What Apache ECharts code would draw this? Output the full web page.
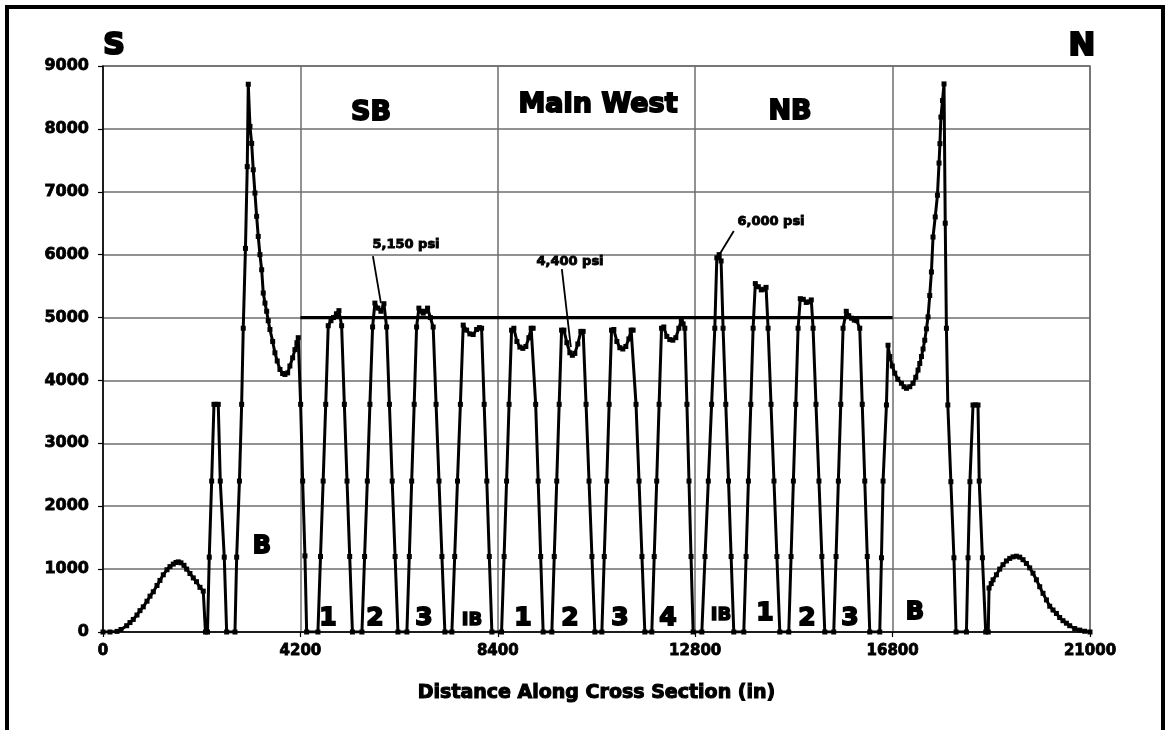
<!DOCTYPE html>
<html>
<head>
<meta charset="utf-8">
<script src="https://cdn.jsdelivr.net/npm/echarts@6/dist/echarts.min.js"></script>
<style>html,body{margin:0;padding:0;background:#fff}#chart{width:1165px;height:730px}</style>
</head>
<body>
<div id="chart"></div>
<script>
// Distance along cross section (in)
const distance = [
  0,149,298,383,504,574,644,723,787,857,936,1000,1070,1149,1212,1283,1361,1425,1495,1553,1602,1659,1723,1780,1850,1921,1989,2063,2133,2180,2223,
  2261,2312,2361,2404,2452,2495,2580,2631,2808,
  2844,2903,2950,2984,3031,3069,3091,3127,3163,3197,3233,3269,3303,3339,3376,3410,3446,3482,3516,3552,3610,3658,3707,3765,3822,3871,3929,3977,4035,4084,4126,4154,4205,4248,4297,4333,
  4573,4628,4684,4739,4792,4850,4903,4966,5020,5077,5135,5192,5249,5307,
  5509,5566,5624,5679,5736,5785,5849,5913,5977,6034,6094,6153,6215,6275,
  6466,6517,6568,6621,6672,6721,6768,6813,6860,6906,6966,7025,7087,7149,7211,7274,
  7423,7483,7542,7604,7664,7736,7806,7876,7949,8008,8055,8110,8166,8219,8274,
  8480,8534,8587,8640,8693,8742,8806,8870,8933,8997,9061,9110,9152,9206,9259,9312,9365,
  9550,9601,9654,9706,9757,9806,9869,9933,9986,10039,10103,10167,10216,10278,10341,10403,10465,
  10614,10665,10718,10769,10820,10869,10933,10997,11060,11124,11188,11237,11279,11341,11405,11467,11528,
  11677,11728,11781,11832,11884,11932,11996,12060,12124,12188,12252,12305,12343,12379,12424,12468,12511,12556,
  12741,12809,12879,12949,13017,13060,13109,13151,13193,13251,13309,13364,13421,
  13634,13683,13732,13783,13832,13879,13943,14006,14059,14108,14151,14213,14276,14338,14400,
  14591,14640,14689,14740,14789,14836,14900,14963,15017,15070,15108,15170,15233,15295,15357,
  15548,15597,15646,15697,15746,15814,15867,15925,15984,16038,16101,16154,16208,16261,16314,
  16527,16563,16597,16669,16703,16739,16793,16846,16910,16988,17044,17095,17165,17235,17293,17341,17378,17414,17448,17484,17520,17554,17590,17626,17660,17707,17754,17788,17807,17828,17862,17894,17920,17945,17975,18040,18105,18150,18371,
  18405,18445,18511,18564,18617,18643,18711,18781,18835,
  18852,18898,18937,19009,19079,19149,19222,19292,19362,19434,19505,19575,19647,19717,19787,19860,19930,20000,20073,20143,20213,20285,20355,20425,20498,20568,20674,20781,20887,21000
];
// Vertical stress (psi)
const stress = [
  0,0,10,40,100,150,200,270,340,400,490,570,640,740,820,910,990,1040,1080,1105,1115,1100,1060,1000,930,860,800,710,650,0,0,
  1190,2400,3620,3620,3620,2400,1190,0,0,
  1190,2400,3620,4830,6100,7400,8710,8040,7770,7350,6980,6610,6290,6000,5760,5390,5230,5100,4950,4810,4620,4440,4310,4175,4110,4095,4120,4230,4360,4490,4600,4680,3620,2400,1210,0,
  0,1200,2400,3620,4870,4950,5000,5060,5110,4870,3620,2400,1200,0,
  0,1200,2400,3620,4850,5230,5150,5100,5220,4850,3620,2400,1200,0,
  0,1200,2400,3620,4850,5150,5100,5070,5100,5150,5000,4850,3620,2400,1200,0,
  0,1200,2400,3620,4880,4800,4740,4730,4810,4840,4830,3620,2400,1200,0,
  0,1200,2400,3620,4800,4830,4620,4530,4510,4540,4680,4830,4830,3620,2400,1200,0,
  0,1200,2400,3620,4800,4800,4600,4440,4400,4430,4580,4780,4780,3620,2400,1200,0,
  0,1200,2400,3620,4800,4810,4620,4520,4500,4540,4660,4800,4800,3620,2400,1200,0,
  0,1200,2400,3620,4830,4850,4700,4650,4640,4680,4830,4960,4900,4830,3620,2400,1200,0,
  0,1200,2400,3620,4830,5950,6000,5900,4830,3620,2400,1200,0,
  0,1200,2400,3620,4830,5540,5490,5440,5450,5480,4830,3620,2400,1200,0,
  0,1200,2400,3620,4830,5300,5290,5240,5250,5280,4830,3620,2400,1200,0,
  0,1200,2400,3620,4830,5100,5030,4990,4960,4950,4830,3620,2400,1200,0,
  0,1180,2400,3610,4560,4380,4230,4115,4020,3955,3900,3875,3900,3955,4050,4165,4270,4380,4500,4640,4820,5010,5350,5725,6280,6600,6945,7457,7765,8187,8450,8715,6500,4830,3610,2390,1180,0,0,
  1180,2390,3610,3610,3610,2400,1180,0,0,
  700,770,830,910,1000,1070,1130,1170,1195,1205,1190,1150,1090,1020,935,830,720,615,510,410,350,295,230,180,140,100,55,30,12,0
];
// Average overburden line
const avgLineX = [4200, 16800];
const avgLineY = [5000, 5000];
// Tick labels as printed
const xTickLabels = ['0', '4200', '8400', '12800', '16800', '21000'];
const yTickLabels = ['0', '1000', '2000', '3000', '4000', '5000', '6000', '7000', '8000', '9000'];
// Callouts: text, leader start [x,y], leader end [x,y]
const calloutText = ['5,150 psi', '4,400 psi', '6,000 psi'];
const calloutFrom = [[5743, 5978], [9763, 5771], [13421, 6375]];
const calloutTo = [[5913, 5231], [9954, 4531], [13123, 6010]];

const FONT = '"DejaVu Sans", "Liberation Sans", sans-serif';
const chart = echarts.init(document.getElementById('chart'), null, {renderer: 'canvas'});

function txt(text, x, y, size, sw) {
  return {
    type: 'text', z: 100,
    style: {
      text: text, x: x, y: y, textAlign: 'center', textVerticalAlign: 'middle',
      font: 'bold ' + size + 'px ' + FONT, fill: '#000', stroke: '#000', lineWidth: sw
    }
  };
}

const mainData = distance.map((d, i) => [d, stress[i]]);
const avgData = avgLineX.map((d, i) => [d, avgLineY[i]]);

const leaderSeries = calloutFrom.map((f, i) => ({
  type: 'line', data: [f, calloutTo[i]], symbol: 'none', silent: true,
  lineStyle: {color: '#000', width: 1.8}, z: 5
}));

chart.setOption({
  animation: false,
  backgroundColor: '#fff',
  grid: {left: 103, right: 75, top: 66, bottom: 98, show: true, borderColor: '#6e6e6e', borderWidth: 1.5},
  xAxis: {
    type: 'value', min: 0, max: 21000, interval: 4200,
    name: 'Distance Along Cross Section (in)', nameLocation: 'middle', nameGap: 52,
    nameTextStyle: {fontFamily: FONT, fontWeight: 'bold', fontSize: 19, color: '#000', textBorderColor: '#000', textBorderWidth: 1.1},
    axisLine: {show: true, lineStyle: {color: '#000', width: 1.5}},
    axisTick: {show: true, length: 5, lineStyle: {color: '#000', width: 1.2}},
    axisLabel: {
      fontFamily: FONT, fontWeight: 'bold', fontSize: 15, color: '#000', margin: 12,
      textBorderColor: '#000', textBorderWidth: 0.8,
      formatter: v => xTickLabels[Math.round(v / 4200)]
    },
    splitLine: {show: true, lineStyle: {color: '#6e6e6e', width: 1.5}}
  },
  yAxis: {
    type: 'value', min: 0, max: 9000, interval: 1000,
    axisLine: {show: true, lineStyle: {color: '#000', width: 1.5}},
    axisTick: {show: true, length: 5, lineStyle: {color: '#000', width: 1.2}},
    axisLabel: {
      fontFamily: FONT, fontWeight: 'bold', fontSize: 16, color: '#000', margin: 14,
      textBorderColor: '#000', textBorderWidth: 0.8,
      formatter: v => yTickLabels[Math.round(v / 1000)]
    },
    splitLine: {show: true, lineStyle: {color: '#6e6e6e', width: 1.5}}
  },
  series: [
    {
      type: 'line', data: mainData, showAllSymbol: true, symbol: 'rect', symbolSize: 5,
      itemStyle: {color: '#000'}, lineStyle: {color: '#000', width: 3}, z: 4, silent: true
    },
    {
      type: 'line', data: avgData, symbol: 'none', silent: true,
      lineStyle: {color: '#000', width: 3.2}, z: 3
    }
  ].concat(leaderSeries),
  graphic: [
    {type: 'rect', z: 200, shape: {x: 7, y: 7, width: 1156, height: 780}, style: {fill: 'none', stroke: '#000', lineWidth: 4}},
    txt('S', 114, 46, 30, 2.2),
    txt('N', 1082, 47, 32, 2.2),
    txt('SB', 371, 113, 27, 1.8),
    txt('Main West', 598, 105, 27, 1.8),
    txt('NB', 790, 112, 27, 1.8),
    txt(calloutText[0], 406, 245, 13, 0.9),
    txt(calloutText[1], 570, 262, 13, 0.9),
    txt(calloutText[2], 771, 222, 13, 0.9),
    txt('B', 262, 547, 24, 1.8),
    txt('B', 915, 613, 24, 1.8),
    txt('1', 328, 618, 25, 1.8),
    txt('2', 375, 618, 25, 1.8),
    txt('3', 424, 618, 25, 1.8),
    txt('IB', 472, 620, 18, 1.4),
    txt('1', 523, 618, 25, 1.8),
    txt('2', 570, 618, 25, 1.8),
    txt('3', 620, 618, 25, 1.8),
    txt('4', 668, 618, 25, 1.8),
    txt('IB', 721, 615, 18, 1.4),
    txt('1', 765, 613, 25, 1.8),
    txt('2', 807, 618, 25, 1.8),
    txt('3', 850, 618, 25, 1.8)
  ]
});
</script>
</body>
</html>
